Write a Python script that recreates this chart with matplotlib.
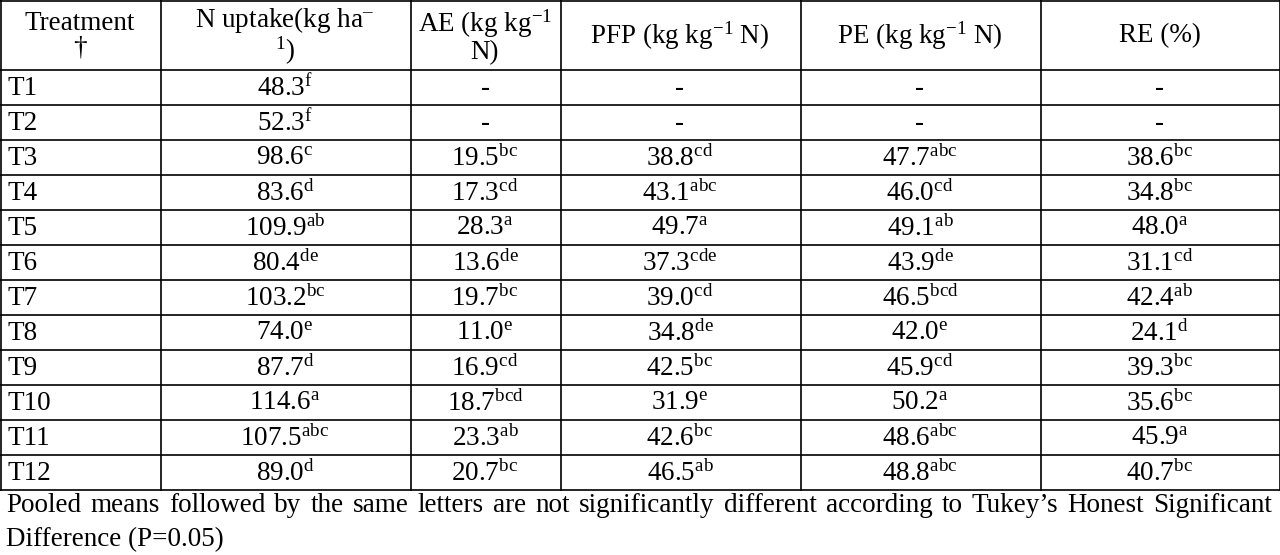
import matplotlib
matplotlib.use("Agg")
import matplotlib.pyplot as plt

plt.rcParams['font.family'] = ['Liberation Serif', 'DejaVu Serif']
plt.rcParams['mathtext.fontset'] = 'custom'
plt.rcParams['mathtext.rm'] = 'Liberation Serif'
plt.rcParams['mathtext.it'] = 'Liberation Serif'

headers = ["Treatment\n†", "N uptake(kg ha$^{–}$\n$^{1}$)", "AE (kg kg$^{−1}$\nN)",
           "PFP (kg kg$^{−1}$ N)", "PE (kg kg$^{−1}$ N)", "RE (%)"]
treatments = ["T1", "T2", "T3", "T4", "T5", "T6", "T7", "T8", "T9", "T10", "T11", "T12"]
n_uptake = ["48.3|f", "52.3|f", "98.6|c", "83.6|d", "109.9|ab", "80.4|de", "103.2|bc",
            "74.0|e", "87.7|d", "114.6|a", "107.5|abc", "89.0|d"]
ae = ["-", "-", "19.5|bc", "17.3|cd", "28.3|a", "13.6|de", "19.7|bc", "11.0|e",
      "16.9|cd", "18.7|bcd", "23.3|ab", "20.7|bc"]
pfp = ["-", "-", "38.8|cd", "43.1|abc", "49.7|a", "37.3|cde", "39.0|cd", "34.8|de",
       "42.5|bc", "31.9|e", "42.6|bc", "46.5|ab"]
pe = ["-", "-", "47.7|abc", "46.0|cd", "49.1|ab", "43.9|de", "46.5|bcd", "42.0|e",
      "45.9|cd", "50.2|a", "48.6|abc", "48.8|abc"]
re_ = ["-", "-", "38.6|bc", "34.8|bc", "48.0|a", "31.1|cd", "42.4|ab", "24.1|d",
       "39.3|bc", "35.6|bc", "45.9|a", "40.7|bc"]
foot1 = "Pooled means followed by the same letters are not significantly different according to Tukey’s Honest Significant"
foot2 = "Difference (P=0.05)"

def fmt(s):
    if "|" in s:
        v, l = s.split("|")
        return v + r"$^{\rm " + l + "}$"
    return s

fig = plt.figure(figsize=(12.8, 5.55), dpi=100)
ax = fig.add_axes([0, 0, 1, 1])
ax.set_xlim(0, 1280); ax.set_ylim(555, 0); ax.axis('off')

cols = [0, 160, 410, 560, 800, 1040, 1279]
head_bot = 70
rh = 35.0
nrows = len(treatments)
tab_bot = head_bot + rh * nrows
fs = 19.5
lw = 1.2

ax.plot([0, 1280], [0.6, 0.6], color='k', lw=lw)
ax.plot([0, 1280], [head_bot, head_bot], color='k', lw=lw)
for i in range(1, nrows + 1):
    y = head_bot + rh * i
    ax.plot([0, 1280], [y, y], color='k', lw=lw)
for x in cols:
    ax.plot([x + 0.6, x + 0.6], [0, tab_bot], color='k', lw=lw)

for j, h in enumerate(headers):
    cx = (cols[j] + cols[j + 1]) / 2
    ax.text(cx, head_bot / 2 + 1, h, ha='center', va='center', fontsize=fs, linespacing=1.0)

data = [n_uptake, ae, pfp, pe, re_]
for i, t in enumerate(treatments):
    cy = head_bot + rh * (i + 0.5) + 1
    ax.text(8, cy, t, ha='left', va='center', fontsize=fs)
    for j, col in enumerate(data):
        cx = (cols[j + 1] + cols[j + 2]) / 2
        ax.text(cx, cy, fmt(col[i]), ha='center', va='center', fontsize=fs)

# justified first footnote line
words = foot1.split(" ")
fig.canvas.draw()
r = fig.canvas.get_renderer()
inv = ax.transData.inverted()
widths = []
for w in words:
    tt = ax.text(0, 0, w, fontsize=fs)
    bb = tt.get_window_extent(renderer=r)
    x0 = inv.transform((bb.x0, 0))[0]; x1 = inv.transform((bb.x1, 0))[0]
    widths.append(x1 - x0)
    tt.remove()
left, right = 6, 1272
gap = (right - left - sum(widths)) / (len(words) - 1)
x = left
for w, wd in zip(words, widths):
    ax.text(x, 506, w, ha='left', va='center', fontsize=fs)
    x += wd + gap
ax.text(left, 540, foot2, ha='left', va='center', fontsize=fs)

fig.savefig("out.png", dpi=100)
